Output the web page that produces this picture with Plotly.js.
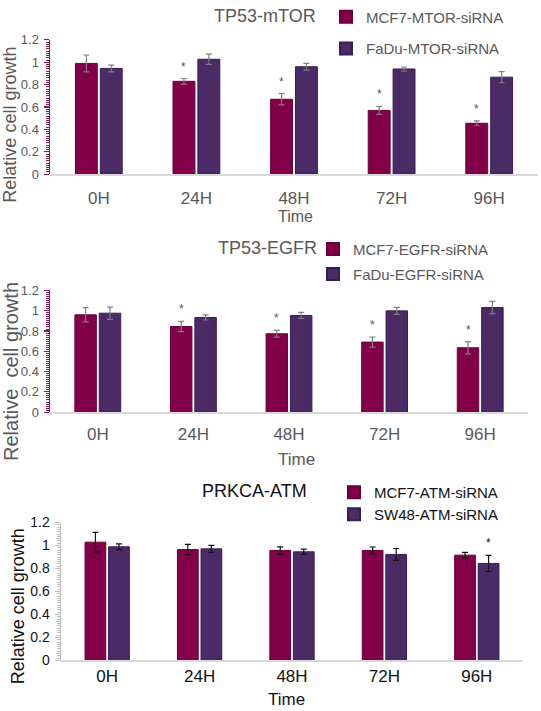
<!DOCTYPE html>
<html>
<head>
<meta charset="utf-8">
<script src="https://cdn.plot.ly/plotly-3.0.1.min.js"></script>
<style>html,body{margin:0;padding:0;background:#fff;}#chart{width:541px;height:711px;}</style>
</head>
<body>
<div id="chart"></div>
<script>
// ---------- data ----------
const categories = ['0H', '24H', '48H', '72H', '96H'];

const mtorMCF7 = [0.99, 0.83, 0.67, 0.57, 0.455];
const mtorMCF7Err = [0.075, 0.025, 0.05, 0.035, 0.022];
const mtorFaDu = [0.945, 1.027, 0.96, 0.94, 0.867];
const mtorFaDuErr = [0.03, 0.045, 0.03, 0.018, 0.05];
const mtorMCF7Sig = [false, true, true, true, true];
const mtorFaDuSig = [false, false, false, false, false];

const egfrMCF7 = [0.96, 0.845, 0.773, 0.691, 0.635];
const egfrMCF7Err = [0.07, 0.05, 0.033, 0.05, 0.06];
const egfrFaDu = [0.976, 0.934, 0.954, 0.999, 1.032];
const egfrFaDuErr = [0.06, 0.025, 0.03, 0.035, 0.06];
const egfrMCF7Sig = [false, true, true, true, true];
const egfrFaDuSig = [false, false, false, false, false];

const atmMCF7 = [1.029, 0.965, 0.957, 0.957, 0.916];
const atmMCF7Err = [0.085, 0.045, 0.032, 0.03, 0.025];
const atmSW48 = [0.989, 0.971, 0.945, 0.922, 0.844];
const atmSW48Err = [0.025, 0.03, 0.023, 0.052, 0.07];
const atmMCF7Sig = [false, false, false, false, false];
const atmSW48Sig = [false, false, false, false, true];

const panelTitles = ['TP53-mTOR', 'TP53-EGFR', 'PRKCA-ATM'];
const legendNames = [
  ['MCF7-MTOR-siRNA', 'FaDu-MTOR-siRNA'],
  ['MCF7-EGFR-siRNA', 'FaDu-EGFR-siRNA'],
  ['MCF7-ATM-siRNA', 'SW48-ATM-siRNA']
];
const yTitles = ['Relative cell growth', 'Relative\u00a0\u00a0cell growth', 'Relative cell growth'];
const xTitle = 'Time';

// ---------- layout helpers ----------
const W = 541, H = 711;
const px = x => x / W;
const py = y => 1 - y / H;

const MAROON = '#820048';
const PURPLE = '#4b2b66';
const BARGAP = 0.49, GROUPGAP = 0.12;

const panels = [
  {l: 50, r: 538, t: 38, b: 172.7, a: mtorMCF7, ae: mtorMCF7Err, as: mtorMCF7Sig, b2: mtorFaDu, be: mtorFaDuErr, bs: mtorFaDuSig,
   axisColor: '#8b1a5a', tickColor: '#595959', errColor: '#7f7f7f', titleColor: '#595959', ytSize: 13, standoff: 8, xtSize: 16,
   title: {x: 212, y: 14}, leg: [{x: 326, y: 15}, {x: 326, y: 47}], ytitle: {x: 10, y: 123}, xt: {x: 295, y: 215}},
  {l: 50, r: 528, t: 289.3, b: 411.3, a: egfrMCF7, ae: egfrMCF7Err, as: egfrMCF7Sig, b2: egfrFaDu, be: egfrFaDuErr, bs: egfrFaDuSig,
   axisColor: '#8b1a5a', tickColor: '#595959', errColor: '#7f7f7f', titleColor: '#595959', ytSize: 13, standoff: 6, xtSize: 17,
   title: {x: 216, y: 247}, leg: [{x: 313, y: 248}, {x: 313, y: 273}], ytitle: {x: 11, y: 371}, xt: {x: 296, y: 459}},
  {l: 61, r: 523, t: 522, b: 660.3, a: atmMCF7, ae: atmMCF7Err, as: atmMCF7Sig, b2: atmSW48, be: atmSW48Err, bs: atmSW48Sig,
   axisColor: '#bfbfbf', tickColor: '#111111', errColor: '#111111', titleColor: '#111111', ytSize: 14, standoff: 0, xtSize: 17,
   title: {x: 200, y: 490}, leg: [{x: 334, y: 492}, {x: 334, y: 514}], ytitle: {x: 18, y: 606}, xt: {x: 286, y: 699}}
];

const data = [];
const layout = {
  width: W, height: H,
  margin: {l: 0, r: 0, t: 0, b: 0},
  paper_bgcolor: '#ffffff', plot_bgcolor: '#ffffff',
  font: {family: 'Liberation Sans, Arial, sans-serif', color: '#595959'},
  barmode: 'group', bargap: BARGAP, bargroupgap: GROUPGAP,
  showlegend: true,
  annotations: []
};

panels.forEach((p, i) => {
  const n = i + 1;
  const xa = n === 1 ? 'x' : 'x' + n;
  const ya = n === 1 ? 'y' : 'y' + n;
  const xk = n === 1 ? 'xaxis' : 'xaxis' + n;
  const yk = n === 1 ? 'yaxis' : 'yaxis' + n;
  const series = [
    {y: p.a, e: p.ae, s: p.as, color: MAROON, line: '#6a003a', name: legendNames[i][0]},
    {y: p.b2, e: p.be, s: p.bs, color: PURPLE, line: '#3a1d55', name: legendNames[i][1]}
  ];
  series.forEach((s, k) => {
    const legKey = 'legend' + (i * 2 + k === 0 ? '' : (i * 2 + k + 1));
    data.push({
      type: 'bar', x: categories, y: s.y, name: s.name,
      xaxis: xa, yaxis: ya,
      legend: legKey,
      marker: {color: s.color, line: {color: s.line, width: 1}},
      error_y: {type: 'data', array: s.e, visible: true, color: p.errColor, thickness: 1.2, width: 3}
    });
    layout[legKey] = {
      x: px(p.leg[k].x), y: py(p.leg[k].y), xanchor: 'left', yanchor: 'middle',
      bgcolor: 'rgba(0,0,0,0)', font: {size: 15, color: p.titleColor},
      itemwidth: 30, itemsizing: 'constant'
    };
    // significance asterisks
    const plotW = p.r - p.l;
    const catW = plotW / categories.length;
    const slot = catW * (1 - BARGAP) / 2;
    const shift = (k - 0.5) * slot;
    s.y.forEach((v, j) => {
      if (s.s[j]) {
        layout.annotations.push({
          xref: xa, yref: ya, x: categories[j], y: v + s.e[j],
          xshift: shift, yshift: 3, yanchor: 'bottom', showarrow: false,
          text: '*', font: {size: 12, color: p.titleColor}
        });
      }
    });
  });

  layout[xk] = {
    domain: [px(p.l), px(p.r)], anchor: ya, type: 'category',
    showline: true, linecolor: '#d9d9d9', linewidth: 1.5, ticks: '', showgrid: false, zeroline: false,
    tickfont: {size: 17, color: p.tickColor}, ticklabelstandoff: p.standoff, fixedrange: true
  };
  layout[yk] = {
    domain: [py(p.b), py(p.t)], anchor: xa, range: [0, 1.2],
    tickvals: [0, 0.2, 0.4, 0.6, 0.8, 1, 1.2], ticktext: ['0', '0.2', '0.4', '0.6', '0.8', '1', '1.2'],
    showline: true, linecolor: p.axisColor, linewidth: 1.5, showgrid: false, zeroline: false,
    ticks: 'outside', ticklen: 5, tickcolor: p.axisColor, tickwidth: 1.2,
    minor: {dtick: 0.02, ticks: 'outside', ticklen: 3, tickcolor: p.axisColor, tickwidth: 1, showgrid: false},
    tickfont: {size: p.ytSize, color: p.tickColor}, ticklabelstandoff: 2, fixedrange: true
  };

  layout.annotations.push({
    xref: 'paper', yref: 'paper', x: px(p.title.x), y: py(p.title.y), xanchor: 'left', yanchor: 'middle',
    showarrow: false, text: panelTitles[i], font: {size: 18, color: p.titleColor}
  });
  layout.annotations.push({
    xref: 'paper', yref: 'paper', x: px(p.ytitle.x), y: py(p.ytitle.y), xanchor: 'center', yanchor: 'middle',
    showarrow: false, textangle: -90, text: yTitles[i], font: {size: i === 1 ? 20 : 18, color: p.titleColor}
  });
  layout.annotations.push({
    xref: 'paper', yref: 'paper', x: px(p.xt.x), y: py(p.xt.y), xanchor: 'center', yanchor: 'middle',
    showarrow: false, text: xTitle, font: {size: p.xtSize, color: p.titleColor}
  });
});

Plotly.newPlot('chart', data, layout, {displayModeBar: false, staticPlot: true});
</script>
</body>
</html>
